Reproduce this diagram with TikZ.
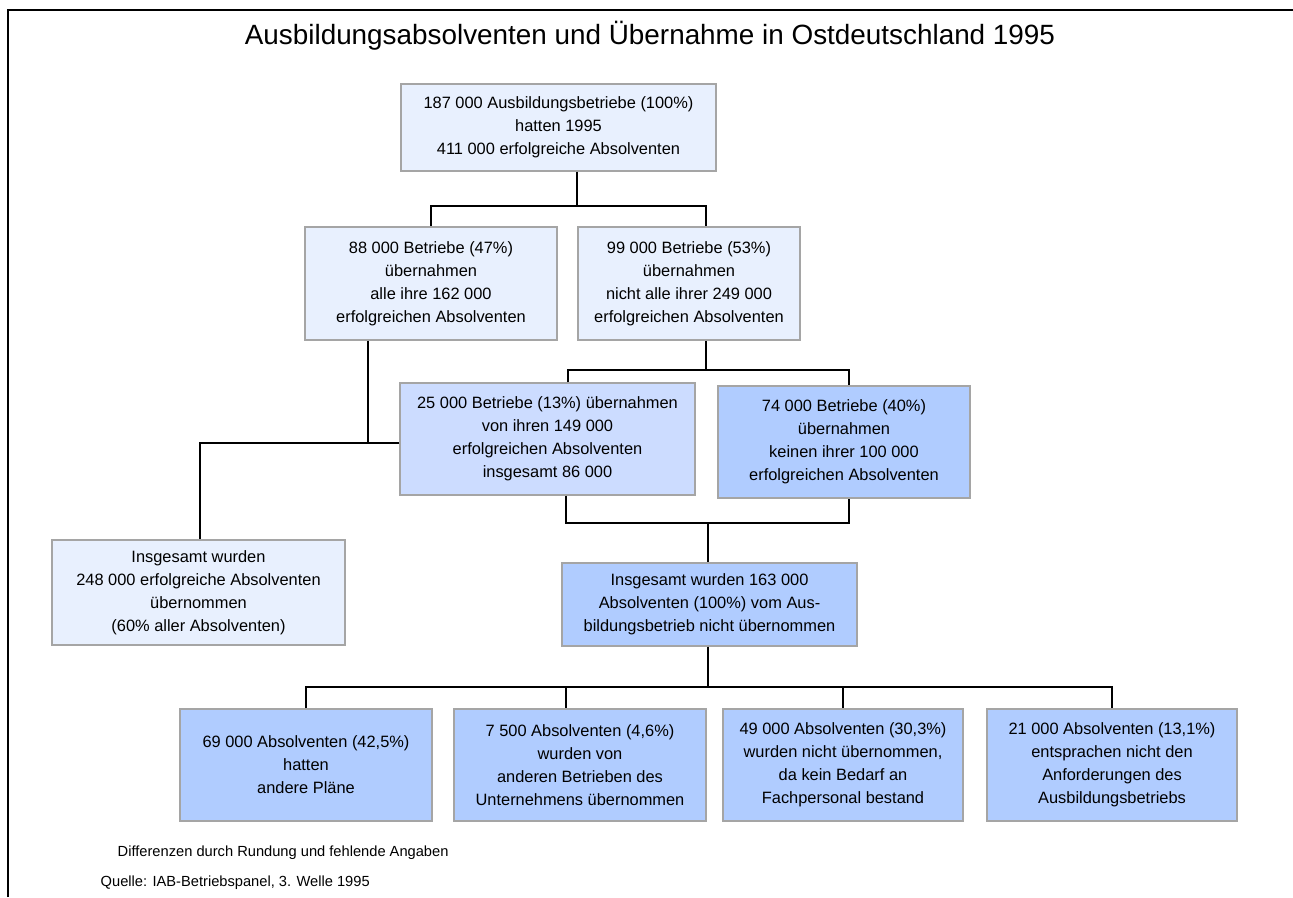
\documentclass[tikz,border=0pt]{standalone}
\usepackage{fontspec}
\setmainfont{Liberation Sans}
\usepackage{xcolor}
\definecolor{boxline}{RGB}{165,165,165}
\definecolor{palebg}{RGB}{232,240,254}
\definecolor{midbg}{RGB}{204,220,255}
\definecolor{deepbg}{RGB}{176,204,255}

\begin{document}
\begin{tikzpicture}[
  x=0.75pt, y=-0.75pt,
  box/.style={draw=boxline, line width=1.1pt, align=center, inner sep=0pt, font=\fontsize{12.3}{17.2}\selectfont},
  pale/.style={box, fill=palebg},
  mid/.style={box, fill=midbg},
  deep/.style={box, fill=deepbg},
  link/.style={line width=1.5pt, black}
]
\useasboundingbox (0,0) rectangle (1293,897);
\draw[line width=1.9pt] (8,897) -- (8,10) -- (1293,10);

\node[font=\fontsize{20.9}{25}\selectfont] (title) at (650,36) {Ausbildungsabsolventen und Übernahme in Ostdeutschland 1995};

\node[pale, minimum width=236pt, minimum height=65pt] (b1) at (558.5,127.5) {187 000 Ausbildungsbetriebe (100\%)\\hatten 1995\\411 000 erfolgreiche Absolventen};

\node[pale, minimum width=189pt, minimum height=85pt] (b2a) at (431,283.5) {88 000 Betriebe (47\%)\\übernahmen\\alle ihre 162 000\\erfolgreichen Absolventen};
\node[pale, minimum width=166.5pt, minimum height=85pt] (b2b) at (689,283.5) {99 000 Betriebe (53\%)\\übernahmen\\nicht alle ihrer 249 000\\erfolgreichen Absolventen};

\node[mid, minimum width=221pt, minimum height=84pt] (b3a) at (547.5,439) {25 000 Betriebe (13\%) übernahmen\\von ihren 149 000\\erfolgreichen Absolventen\\insgesamt 86 000};
\node[deep, minimum width=189pt, minimum height=84pt] (b3b) at (844,442) {74 000 Betriebe (40\%)\\übernahmen\\keinen ihrer 100 000\\erfolgreichen Absolventen};

\node[pale, minimum width=220pt, minimum height=79pt] (b4) at (198.5,592.5) {Insgesamt wurden\\248 000 erfolgreiche Absolventen\\übernommen\\(60\% aller Absolventen)};
\node[deep, minimum width=221pt, minimum height=62pt] (b5) at (709.5,604.5) {Insgesamt wurden 163 000\\Absolventen (100\%) vom Aus-\\bildungsbetrieb nicht übernommen};

\node[deep, minimum width=189pt, minimum height=84pt] (b6a) at (306,765) {69 000 Absolventen (42,5\%)\\hatten\\andere Pläne};
\node[deep, minimum width=189pt, minimum height=84pt] (b6b) at (580,765) {7 500 Absolventen (4,6\%)\\wurden von\\anderen Betrieben des\\Unternehmens übernommen};
\node[deep, minimum width=180pt, minimum height=84pt] (b6c) at (843,765) {49 000 Absolventen (30,3\%)\\wurden nicht übernommen,\\da kein Bedarf an\\Fachpersonal bestand};
\node[deep, minimum width=187.5pt, minimum height=84pt] (b6d) at (1112,765) {21 000 Absolventen (13,1\%)\\entsprachen nicht den\\Anforderungen des\\Ausbildungsbetriebs};

\node[anchor=west, font=\fontsize{11}{13}\selectfont] (note) at (113,853) {Differenzen durch Rundung und fehlende Angaben};
\node[anchor=west, font=\fontsize{11}{13}\selectfont] (source) at (96,883) {Quelle: IAB-Betriebspanel, 3. Welle 1995};

% first split
\coordinate (s1) at (577,206);
\coordinate (s1r) at (706,206);
\draw[link] (b1.south -| s1) -- (s1);
\draw[link] (b2a.north) |- (s1) -- (s1r) -- (b2b.north -| s1r);

% second split
\coordinate (s2) at (706,370);
\coordinate (s2l) at (568,370);
\coordinate (s2r) at (849,370);
\draw[link] (b2b.south -| s2) -- (s2);
\draw[link] (b3a.north -| s2l) -- (s2l) -- (s2r) -- (b3b.north -| s2r);

% taken over
\coordinate (s3) at (368,443);
\coordinate (s3l) at (200,443);
\draw[link] (b2a.south -| s3) -- (s3);
\draw[link] (b3a.west |- s3l) -- (s3l) -- (b4.north -| s3l);

% not taken over
\coordinate (u1) at (566,523);
\coordinate (u2) at (849,523);
\coordinate (u0) at (708,523);
\draw[link] (b3a.south -| u1) -- (u1) -- (u2) -- (b3b.south -| u2);
\draw[link] (u0) -- (b5.north -| u0);

% last split
\coordinate (s5) at (708,687);
\coordinate (s5b) at (566,687);
\draw[link] (b5.south -| s5) -- (s5);
\draw[link] (b6a.north) |- (s5) -| (b6d.north);
\draw[link] (s5b) -- (b6b.north -| s5b);
\draw[link] (b6c.north |- s5) -- (b6c.north);
\end{tikzpicture}
\end{document}
